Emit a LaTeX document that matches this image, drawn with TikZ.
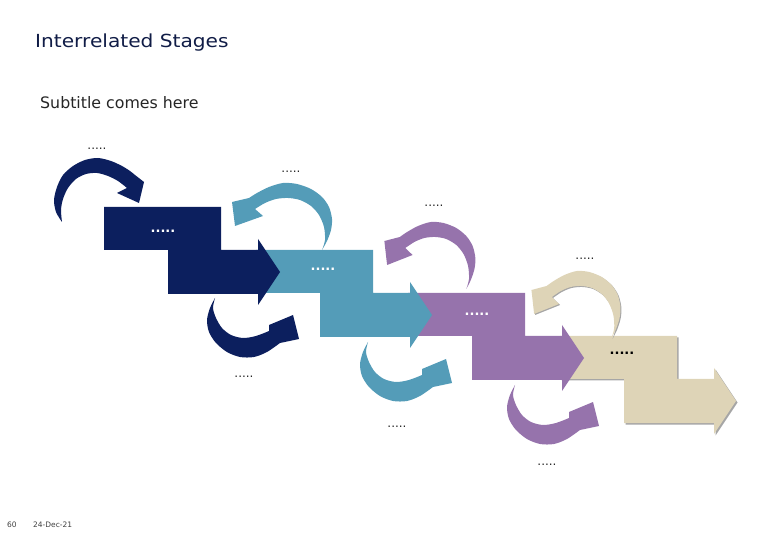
\documentclass[tikz,border=0pt]{standalone}
\usepackage{fontspec}
\setmainfont{DejaVu Sans}
\newfontfamily\titlefont[FakeStretch=1.12]{DejaVu Sans}
\definecolor{stagenavy}{RGB}{12,31,94}
\definecolor{stageteal}{RGB}{84,156,184}
\definecolor{stagepurple}{RGB}{150,115,172}
\definecolor{stagebeige}{RGB}{222,212,183}
\definecolor{titlenavy}{RGB}{16,28,70}
\begin{document}
\begin{tikzpicture}[x=1pt, y=-1pt, line join=round, line cap=round,
		stagelbl/.style={font=\bfseries\fontsize{13}{13}\selectfont, inner sep=0pt},
		notelbl/.style={font=\fontsize{12}{12}\selectfont, inner sep=0pt, text=black!85}]
	\useasboundingbox (0,0) rectangle (780,540);
	% outlines (pixel units, y going down)
	\def\stageoutline{(104,207) -- (221,207) -- (221,250) -- (258,250) -- (258,239) -- (280,272) -- (258,305) -- (258,294) -- (168,294) -- (168,250) -- (104,250) -- cycle}
	\def\loopover{plot[smooth] coordinates {(322,250) (327,241) (331,230) (332,219) (329,207) (322,197) (311,189) (297,184) (283,183) (269,187) (257,193) (249,198)} -- (232,202) -- (235,226) -- (263,216) -- plot[smooth] coordinates {(255,209) (265,203) (276,199) (288,198) (300,200) (311,206) (319,215) (324,227) (325,240) (322,250)} -- cycle}
	\def\loopunder{plot[smooth] coordinates {(215,298) (210,308) (207,320) (209,332) (216,343) (227,352) (240,357) (254,357) (267,352) (280,343)} -- (299,339) -- (293,315) -- (269,325) -- plot[smooth] coordinates {(269,331) (256,336) (243,338) (231,335) (222,328) (216,318) (213,308) (215,298)} -- cycle}
	% stages, last one first
	\fill[gray!70, shift={(457.5,130.5)}] \stageoutline;
	\foreach \i/\col in {3/stagebeige, 2/stagepurple, 1/stageteal, 0/stagenavy}{
		\fill[\col, shift={({152*\i},{43*\i})}] \stageoutline;
	}
	\node[stagelbl, text=white] (navylbl) at (163,231) {.....};
	\node[stagelbl, text=white] (teallbl) at (323,269) {.....};
	\node[stagelbl, text=white] (purplelbl) at (477,314) {.....};
	\node[stagelbl, text=black] (beigelbl) at (622,353) {.....};
	% curved arrows
	\fill[stagenavy] plot[smooth] coordinates {(62,222) (56,212) (54,200) (57,187) (63,175) (73,166) (85,160) (98,158) (111,161) (122,166) (130,171) (135,175)} -- (144,182) -- (139,203) -- (117,193) -- plot[smooth] coordinates {(127,188) (118,181) (108,176) (97,173) (86,174) (76,179) (68,188) (63,199) (61,210) (62,222)} -- cycle;
	\fill[stagenavy] \loopunder;
	\fill[stageteal] \loopover;
	\fill[stageteal, shift={(153,44)}] \loopunder;
	\fill[stagepurple, shift={(388,263)}, xscale=0.91, shift={(-236,-224)}] \loopover;
	\fill[stagepurple, shift={(300,87)}] \loopunder;
	\fill[gray!70, shift={(536,313)}, xscale=0.89, shift={(-236,-224)}] \loopover;
	\fill[stagebeige, shift={(535,312)}, xscale=0.89, shift={(-236,-224)}] \loopover;
	% small labels
	\node[notelbl] (navyover) at (97,149) {.....};
	\node[notelbl] (tealover) at (291,172) {.....};
	\node[notelbl] (purpleover) at (434,206) {.....};
	\node[notelbl] (beigeover) at (585,259) {.....};
	\node[notelbl] (navyunder) at (244,377) {.....};
	\node[notelbl] (tealunder) at (397,427) {.....};
	\node[notelbl] (purpleunder) at (547,465) {.....};
	% texts
	\node[anchor=base west, inner sep=0pt, text=titlenavy, font=\titlefont\fontsize{18}{21}\selectfont] (title) at (35,48) {Interrelated Stages};
	\node[anchor=base west, inner sep=0pt, text=black!85, font=\fontsize{15.8}{19}\selectfont] (subtitle) at (40,109) {Subtitle comes here};
	\node[anchor=base west, inner sep=0pt, text=black!75, font=\fontsize{7.5}{9}\selectfont] (pageno) at (7,527) {60};
	\node[anchor=base west, inner sep=0pt, text=black!75, font=\fontsize{7.5}{9}\selectfont] (date) at (33,527) {24-Dec-21};
\end{tikzpicture}
\end{document}
